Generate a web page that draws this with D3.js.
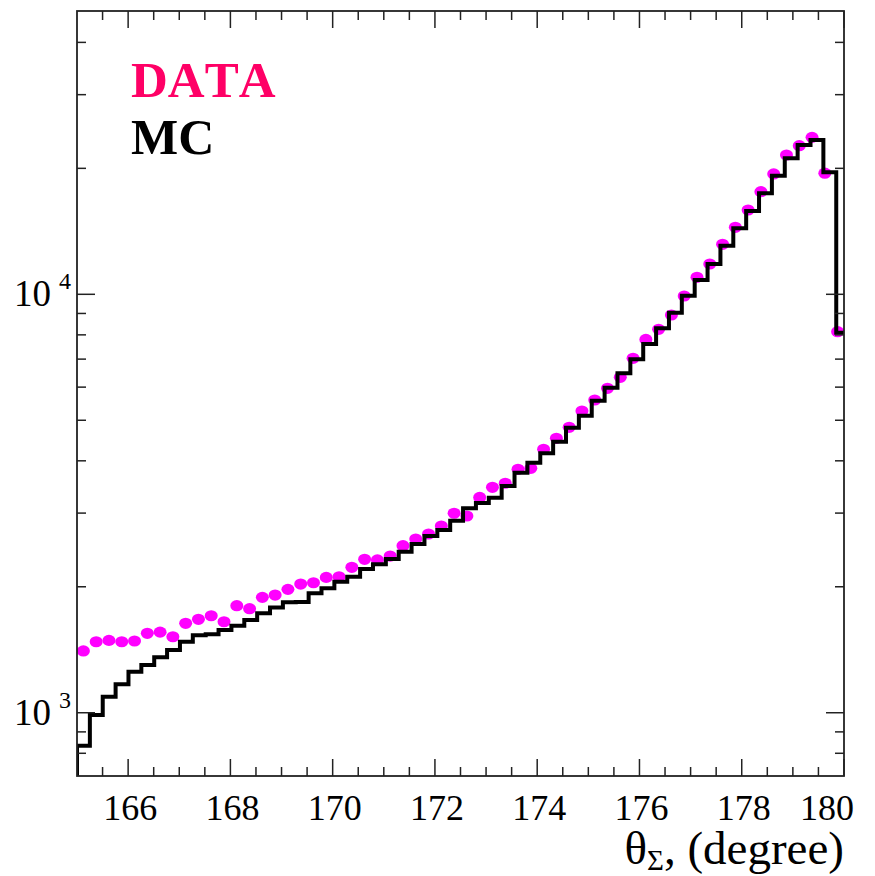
<!DOCTYPE html>
<html>
<head>
<meta charset="utf-8">
<script src="https://cdn.jsdelivr.net/npm/d3@7"></script>
<style>
  html, body { margin: 0; padding: 0; background: #fff; }
  svg { display: block; }
  text { font-family: "Liberation Serif", "Times New Roman", Times, serif; font-kerning: none; }
</style>
</head>
<body>
<svg id="chart" width="875" height="876"></svg>
<script>
// ---- data ----
const xDomain = [165, 180];
const dataBinLow = 165, dataBinWidth = 0.25;       // DATA: 60 bins of 0.25 deg
const mcBinLow = 165, mcBinHigh = 180.1;            // MC: 60 bins over [165, 180.1]
const dataCounts = [
  1405, 1478, 1489, 1478, 1484, 1548, 1558, 1519, 1636, 1672,
  1705, 1650, 1802, 1773, 1887, 1911, 1972, 2030, 2045, 2106,
  2113, 2226, 2326, 2319, 2368, 2507, 2601, 2674, 2794, 2997,
  2952, 3270, 3457, 3535, 3817, 3838, 4262, 4527, 4810, 5261,
  5590, 5961, 6333, 7031, 7803, 8247, 8924, 9908, 10980, 11815,
  13167, 14459, 15904, 17591, 19395, 21523, 22656, 23721, 19470, 8139
];
const mcCounts = [
  834, 988, 1092, 1169, 1253, 1300, 1357, 1412, 1478, 1531,
  1540, 1577, 1614, 1666, 1729, 1785, 1836, 1840, 1929, 1983,
  2056, 2113, 2205, 2263, 2330, 2426, 2531, 2645, 2734, 2876,
  3080, 3171, 3265, 3482, 3747, 3958, 4169, 4443, 4800, 5126,
  5568, 5981, 6475, 6991, 7604, 8292, 9036, 9924, 10818, 11815,
  13066, 14380, 15816, 17437, 19208, 21135, 22742, 23374, 19567, 8093
];
const xMajorTicks = [166, 168, 170, 172, 174, 176, 178, 180];
const yMajorTicks = [1000, 10000];
const yMajorExp = ["3", "4"];
const yMinorTicks = [800, 900, 2000, 3000, 4000, 5000, 6000, 7000, 8000, 9000, 20000, 30000, 40000];
const yDomain = [706, 47540];
const legendLabels = ["DATA", "MC"];

// ---- layout ----
const L = 77, R = 844, T = 11, B = 776;
const svg = d3.select("#chart");
const x = d3.scaleLinear().domain(xDomain).range([L, R]);
const y = d3.scaleLog().domain(yDomain).range([B, T]);

svg.append("defs").append("clipPath").attr("id", "plotclip")
  .append("rect").attr("x", L).attr("y", T).attr("width", R - L).attr("height", B - T);

const plot = svg.append("g").attr("clip-path", "url(#plotclip)");

// DATA points at bin centres
const dataX = dataCounts.map((d, i) => dataBinLow + (i + 0.5) * dataBinWidth);
plot.append("g").selectAll("ellipse").data(dataCounts).join("ellipse")
  .attr("cx", (d, i) => x(dataX[i]))
  .attr("cy", d => y(d))
  .attr("rx", 6.5).attr("ry", 5.6)
  .attr("fill", "#ff00ff");

// MC histogram (step outline)
const nMc = mcCounts.length;
const mcW = (mcBinHigh - mcBinLow) / nMc;
const pts = [[x(mcBinLow), B + 5]];
mcCounts.forEach((c, i) => {
  pts.push([x(mcBinLow + i * mcW), y(c)]);
  pts.push([x(mcBinLow + (i + 1) * mcW), y(c)]);
});
pts.push([x(mcBinHigh), B + 5]);
plot.append("path")
  .attr("d", d3.line()(pts))
  .attr("fill", "none")
  .attr("stroke", "#000")
  .attr("stroke-width", 4)
  .attr("stroke-linejoin", "miter");

// ---- axes / frame ----
const axisColor = "#222";
const axG = svg.append("g").attr("stroke", axisColor).attr("stroke-width", 1.5);

// x ticks (bottom and top)
const xMinor = d3.range(165.5, 180.01, 0.5).filter(v => !xMajorTicks.includes(v));
function xTick(v, len) {
  axG.append("line").attr("x1", x(v)).attr("x2", x(v)).attr("y1", B).attr("y2", B - len);
  axG.append("line").attr("x1", x(v)).attr("x2", x(v)).attr("y1", T).attr("y2", T + len);
}
xMinor.forEach(v => xTick(v, 9));
xMajorTicks.forEach(v => xTick(v, 17));

// y ticks (left and right)
function yTick(v, len) {
  axG.append("line").attr("x1", L).attr("x2", L + len).attr("y1", y(v)).attr("y2", y(v));
  axG.append("line").attr("x1", R).attr("x2", R - len).attr("y1", y(v)).attr("y2", y(v));
}
yMinorTicks.forEach(v => yTick(v, 9));
yMajorTicks.forEach(v => yTick(v, 18));

// frame
svg.append("rect").attr("x", L).attr("y", T).attr("width", R - L).attr("height", B - T)
  .attr("fill", "none").attr("stroke", axisColor).attr("stroke-width", 1.8);

// x tick labels
svg.append("g").selectAll("text").data(xMajorTicks).join("text")
  .attr("x", (d, i) => i === xMajorTicks.length - 1 ? x(d) - 17 : x(d) + 2)
  .attr("y", 820)
  .attr("text-anchor", "middle")
  .attr("font-size", 36)
  .attr("fill", "#000")
  .text(d => d);

// y tick labels: 10^n
yMajorTicks.forEach((v, i) => {
  svg.append("text")
    .attr("x", 51).attr("y", y(v) + 12)
    .attr("text-anchor", "end")
    .attr("font-size", 37).attr("fill", "#000")
    .text("10");
  svg.append("text")
    .attr("x", 59).attr("y", y(v) - 5)
    .attr("font-size", 24).attr("fill", "#000")
    .text(yMajorExp[i]);
});

// x axis title
const xt = svg.append("text")
  .attr("x", 844).attr("y", 864)
  .attr("text-anchor", "end")
  .attr("font-size", 47).attr("fill", "#000");
xt.append("tspan").text("θ");
xt.append("tspan").attr("font-size", 29).attr("dy", 6).text("Σ");
xt.append("tspan").attr("dy", -6).text(", (degree)");

// legend
svg.append("text").attr("x", 131).attr("y", 97)
  .attr("font-size", 51).attr("font-weight", "bold").attr("fill", "#ff0066")
  .text(legendLabels[0]);
svg.append("text").attr("x", 131).attr("y", 154)
  .attr("font-size", 50).attr("font-weight", "bold").attr("fill", "#000")
  .text(legendLabels[1]);
</script>
</body>
</html>
